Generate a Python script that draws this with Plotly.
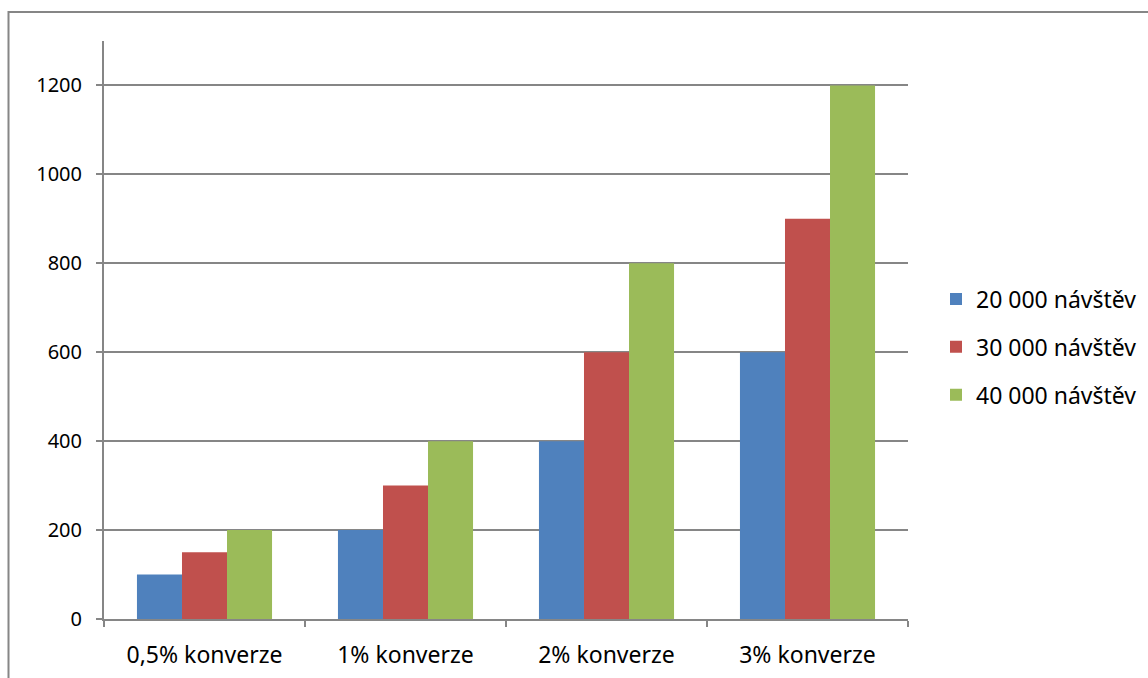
import plotly.graph_objects as go

categories = ["0,5% konverze", "1% konverze", "2% konverze", "3% konverze"]
series_names = ["20 000 návštěv", "30 000 návštěv", "40 000 návštěv"]
v20 = [100, 200, 400, 600]
v30 = [150, 300, 600, 900]
v40 = [200, 400, 800, 1200]
colors = ["#4F81BD", "#C0504D", "#9BBB59"]

fig = go.Figure()
for i, (name, vals) in enumerate(zip(series_names, [v20, v30, v40])):
    fig.add_trace(go.Bar(x=categories, y=vals, name=name, marker_color=colors[i],
                         marker_line_width=0, legendgroup=name))

W, H = 1148, 678
L, R, T, B = 104, 240, 41, 59
pw = W - L - R
ph = H - T - B
font = "Noto Sans, Open Sans, sans-serif"
fig.update_layout(
    width=W, height=H,
    margin=dict(l=L, r=R, t=T, b=B, autoexpand=False),
    paper_bgcolor="white", plot_bgcolor="white",
    barmode="group", bargap=0.328, bargroupgap=0,
    font=dict(family=font, size=22, color="black"),
    showlegend=True,
    legend=dict(x=(936 - L) / pw, xanchor="left", y=(H - B - 347) / ph, yanchor="middle",
                tracegroupgap=15, traceorder="grouped", font=dict(size=23)),
    xaxis=dict(showline=True, linecolor="#868686", linewidth=2, ticks="outside",
               tickson="boundaries", ticklen=6, tickcolor="#868686", tickwidth=2,
               showgrid=False, ticklabelstandoff=14, tickfont=dict(size=23), automargin=False),
    yaxis=dict(range=[0, 1300], dtick=200, showline=True, linecolor="#868686", linewidth=2,
               ticks="outside", ticklen=6, tickcolor="#868686", tickwidth=2,
               gridcolor="#868686", gridwidth=1.5, zeroline=False, ticklabelstandoff=10,
               tickfont=dict(size=20), automargin=False),
    shapes=[dict(type="rect", xref="paper", yref="paper",
                 x0=(8.5 - L) / pw, x1=2, y0=-1, y1=(H - B - 12) / ph,
                 line=dict(color="#868686", width=2), fillcolor="rgba(0,0,0,0)", layer="below")],
)
fig.write_html("out.html")
